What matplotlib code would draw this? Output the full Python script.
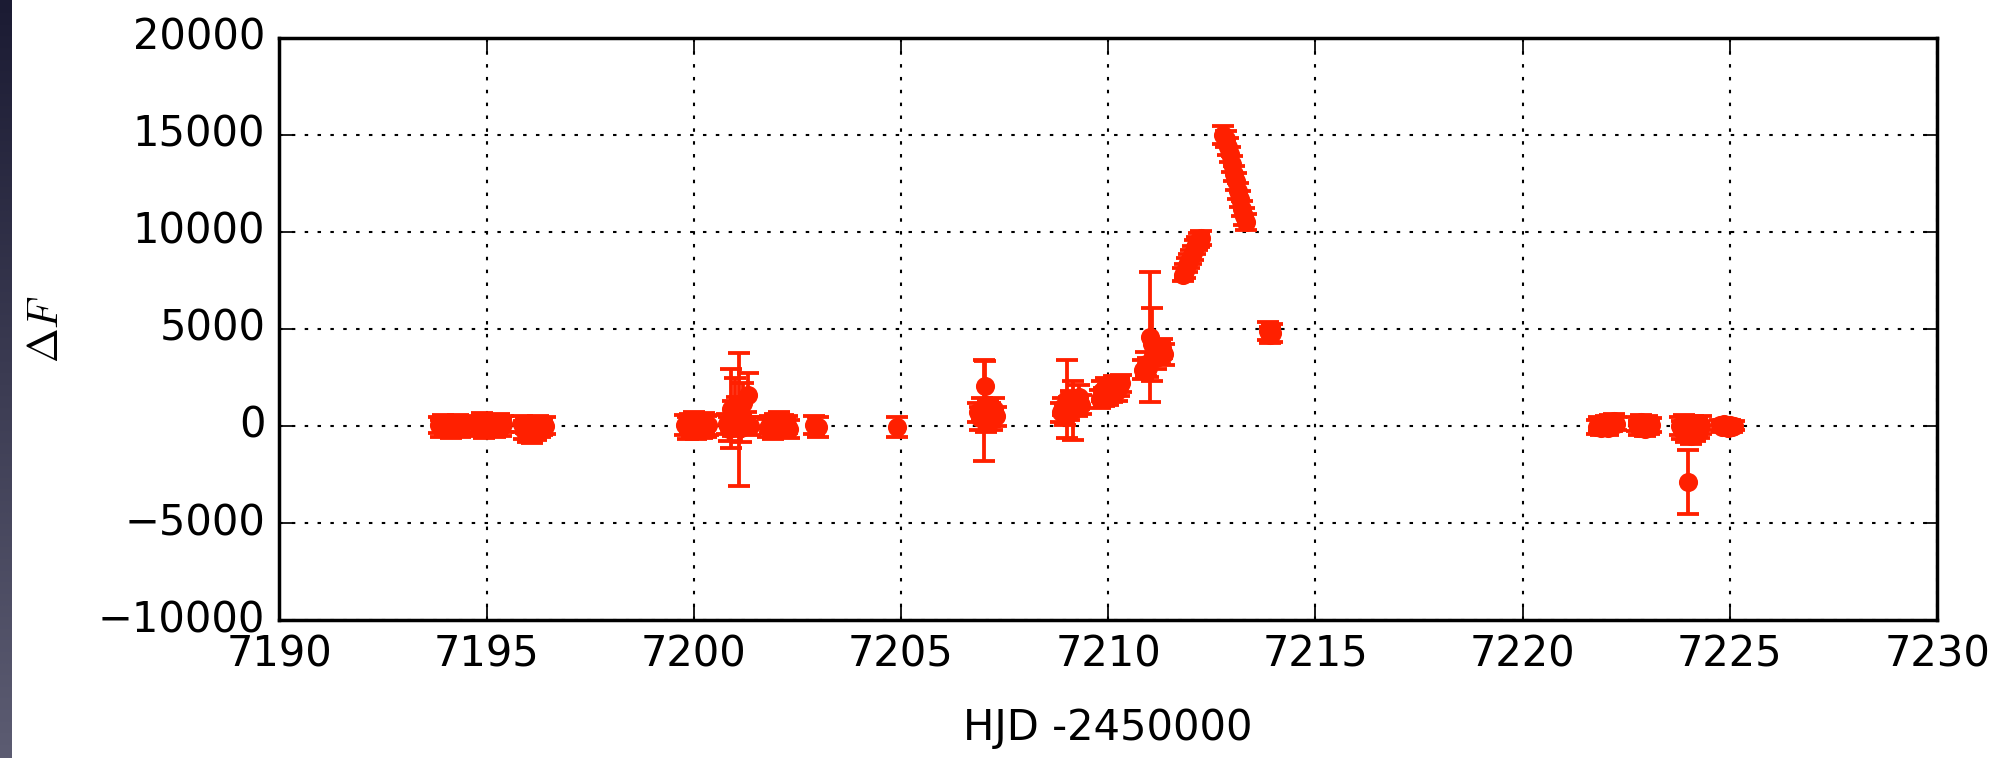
import numpy as np
import matplotlib
matplotlib.use("Agg")
import matplotlib.pyplot as plt
from matplotlib.colors import LinearSegmentedColormap

plt.style.use("classic")

# ---- data ----
hjd = [
    # night 7194
    7193.85, 7193.9, 7193.95, 7194.0, 7194.05, 7194.1, 7194.15, 7194.2, 7194.25, 7194.3, 7194.35, 7194.4,
    # night 7195
    7194.8, 7194.85, 7194.9, 7194.95, 7195.0, 7195.05, 7195.1, 7195.15, 7195.2, 7195.25, 7195.3, 7195.35, 7195.4,
    # night 7196
    7195.85, 7195.9, 7195.95, 7196.0, 7196.05, 7196.1, 7196.15, 7196.2, 7196.25, 7196.3, 7196.35, 7196.4,
    # night 7200
    7199.8, 7199.85, 7199.9, 7199.95, 7200.0, 7200.05, 7200.1, 7200.15, 7200.2, 7200.25, 7200.3, 7200.35,
    # night 7201
    7200.8, 7200.85, 7200.9, 7200.95, 7201.0, 7201.05, 7201.1, 7201.15, 7201.2, 7201.25, 7201.3, 7201.35,
    # night 7202
    7201.8, 7201.85, 7201.9, 7201.95, 7202.0, 7202.05, 7202.1, 7202.15, 7202.2, 7202.25, 7202.3,
    # night 7203
    7202.9, 7203.0,
    # night 7205
    7204.9,
    # night 7207
    7206.85, 7206.9, 7206.95, 7207.0, 7207.03, 7207.05, 7207.1, 7207.15, 7207.2, 7207.25, 7207.3,
    # night 7209
    7208.85, 7208.9, 7208.95, 7209.0, 7209.05, 7209.1, 7209.15, 7209.2, 7209.25, 7209.3, 7209.35,
    # night 7210
    7209.8, 7209.85, 7209.9, 7209.95, 7210.0, 7210.05, 7210.1, 7210.15, 7210.2, 7210.25, 7210.3,
    # night 7211
    7210.85, 7210.9, 7210.95, 7211.0, 7211.05, 7211.1, 7211.15, 7211.2, 7211.25, 7211.3, 7211.35,
    # night 7212
    7211.8, 7211.85, 7211.9, 7211.95, 7212.0, 7212.05, 7212.1, 7212.15, 7212.2, 7212.25,
    # night 7213
    7212.78, 7212.83, 7212.88, 7212.93, 7212.98, 7213.03, 7213.08, 7213.13, 7213.18, 7213.23, 7213.28, 7213.32,
    # night 7214
    7213.85, 7213.9, 7213.95,
    # night 7222
    7221.8, 7221.85, 7221.9, 7221.95, 7222.0, 7222.05, 7222.1, 7222.15, 7222.2, 7222.25,
    # night 7223
    7222.75, 7222.8, 7222.85, 7222.9, 7222.95, 7223.0, 7223.05, 7223.1,
    # night 7224
    7223.8, 7223.85, 7223.9, 7223.95, 7223.99, 7224.0, 7224.05, 7224.1, 7224.15, 7224.2, 7224.25, 7224.3,
    # night 7225
    7224.75, 7224.8, 7224.85, 7224.9, 7224.95, 7225.0, 7225.05, 7225.1,
]

delta_f = [
    50, -120, 180, -60, 120, 0, -150, 90, -40, 160, -90, 30,
    100, -80, 200, -150, 60, 150, -50, 120, -120, 40, 180, -60, 80,
    100, -200, 50, -350, -100, -420, 0, -250, 80, -150, -50, 20,
    50, -100, 150, -60, 100, -150, 30, 120, -80, 180, -30, 60,
    100, -150, 900, 400, 1000, 700, 330, -100, 1200, 200, 1600, 0,
    -100, 80, -200, 150, 0, 250, -120, 100, -50, 60, -150,
    50, -50,
    -50,
    700, 400, 900, 800, 2060, 200, 800, 600, 300, 900, 500,
    700, 1000, 600, 1400, 900, 1300, 800, 1200, 1000, 1500, 1100,
    1400, 1800, 1500, 2000, 1600, 1900, 1700, 2100, 1800, 2000, 2200,
    2900, 3200, 3000, 4600, 4200, 3700, 3500, 3900, 3800, 4000, 3700,
    7800, 8000, 8300, 8500, 8700, 8900, 9200, 9400, 9600, 9700,
    15000, 14800, 14400, 14000, 13500, 13000, 12600, 12100, 11700, 11200, 10800, 10500,
    4900, 4700, 4800,
    -50, 100, -100, 50, 150, -80, 200, 80, 250, 120,
    100, -100, 200, 0, -150, 150, -50, 50,
    0, -200, 150, -350, -2900, -100, -500, 100, -300, -50, -200, 50,
    50, -50, 80, 0, -80, 60, -30, 20,
]

delta_f_err = [
    420, 450, 400, 470, 420, 440, 460, 410, 450, 430, 470, 440,
    430, 420, 450, 470, 430, 410, 460, 440, 450, 420, 450, 430, 410,
    420, 450, 420, 470, 440, 450, 430, 450, 420, 440, 430, 420,
    500, 550, 480, 530, 600, 510, 550, 480, 520, 490, 540, 500,
    500, 600, 2050, 900, 1470, 800, 3430, 700, 1000, 500, 1130, 450,
    450, 430, 470, 450, 440, 460, 430, 450, 470, 440, 450,
    450, 500,
    500,
    500, 600, 550, 2600, 1300, 500, 550, 600, 500, 550, 500,
    500, 450, 550, 2000, 600, 500, 1500, 450, 500, 600, 500,
    450, 500, 450, 470, 500, 450, 480, 470, 500, 450, 450,
    500, 600, 500, 3350, 1880, 500, 550, 500, 600, 500, 550,
    350, 370, 350, 380, 350, 370, 360, 350, 370, 350,
    450, 400, 420, 400, 430, 400, 420, 400, 430, 400, 420, 400,
    450, 420, 450,
    350, 370, 350, 380, 350, 370, 360, 350, 370, 350,
    350, 370, 350, 380, 350, 370, 360, 350,
    450, 470, 430, 450, 1650, 470, 450, 430, 470, 450, 430, 450,
    250, 270, 250, 260, 250, 270, 260, 250,
]

x_ticks = [7190, 7195, 7200, 7205, 7210, 7215, 7220, 7225, 7230]
y_ticks = [-10000, -5000, 0, 5000, 10000, 15000, 20000]

red = "#ff2000"

fig = plt.figure(figsize=(7.98, 3.032), dpi=250, facecolor="white")

# dark slide strip on the left edge
strip = fig.add_axes([0, 0, 12 / 1995, 1])
grad = np.linspace(0, 1, 256).reshape(-1, 1)
cm_strip = LinearSegmentedColormap.from_list("s", ["#1b1b33", "#5c5c72"])
strip.imshow(grad, aspect="auto", cmap=cm_strip, origin="upper")
strip.set_axis_off()

ax = fig.add_axes([0.140, 0.182, 0.831, 0.768])
ax.errorbar(hjd, delta_f, yerr=delta_f_err, fmt="o", color=red, ecolor=red,
            mec=red, mfc=red, ms=5.0, capsize=3.3, elinewidth=1.1,
            capthick=1.1, zorder=3)

ax.set_xlim(7190, 7230)
ax.set_ylim(-10000, 20000)
ax.set_xticks(x_ticks)
ax.set_yticks(y_ticks)
ax.grid(True, color="k", linewidth=0.6, dashes=(1, 2.7))
ax.tick_params(labelsize=12)
ax.set_xlabel("HJD -2450000", fontsize=12)
ax.set_ylabel(r"$\Delta F$", fontsize=12)
ax.xaxis.set_label_coords(0.5, -0.15)
ax.yaxis.set_label_coords(-0.128, 0.5)

fig.savefig("out.png", dpi=250, facecolor="white")
